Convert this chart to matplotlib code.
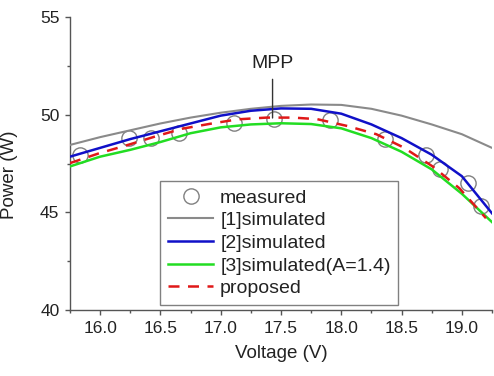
import numpy as np
import matplotlib
matplotlib.use('Agg')
import matplotlib.pyplot as plt
from matplotlib.ticker import MultipleLocator

plt.rcParams['font.family'] = ['Liberation Sans', 'DejaVu Sans']

# ── data ─────────────────────────────────────────────────────────────────────
meas_v = [15.83, 16.24, 16.42, 16.65, 17.11, 17.44, 17.91, 18.36, 18.70, 18.82, 19.05, 19.16]
meas_p = [47.94, 48.79, 48.80, 49.05, 49.57, 49.80, 49.73, 48.77, 47.94, 47.20, 46.51, 45.32]

grid_v = [15.75, 16.0, 16.25, 16.5, 16.75, 17.0, 17.25, 17.5, 17.75, 18.0,
          18.25, 18.5, 18.75, 19.0, 19.25]
sim1_p = [48.45, 48.85, 49.20, 49.55, 49.85, 50.10, 50.30, 50.45, 50.52, 50.50,
          50.30, 49.95, 49.50, 49.00, 48.30]
sim2_p = [47.85, 48.30, 48.75, 49.15, 49.55, 49.95, 50.20, 50.32, 50.30, 50.05,
          49.50, 48.80, 47.95, 46.85, 44.95]
sim3_p = [47.35, 47.85, 48.20, 48.60, 49.05, 49.35, 49.50, 49.56, 49.52, 49.30,
          48.80, 48.10, 47.20, 45.95, 44.50]

prop_v = [15.75, 15.99, 16.23, 16.45, 16.68, 16.91, 17.14, 17.38, 17.60, 17.80,
          18.05, 18.29, 18.52, 18.76, 18.98, 19.20]
prop_p = [47.52, 48.02, 48.45, 48.87, 49.28, 49.53, 49.76, 49.85, 49.85, 49.77,
          49.42, 49.00, 48.31, 47.34, 46.23, 44.70]

mpp_v, mpp_p = 17.43, 49.83

# ── figure ───────────────────────────────────────────────────────────────────
fig = plt.figure(figsize=(4.94, 3.76), dpi=100)
ax = fig.add_axes([70 / 494, 66 / 376, 422 / 494, 293 / 376])

ax.plot(meas_v, meas_p, 'o', ms=11, mfc='none', mec='#808080', mew=1.0,
        label='measured', zorder=2)
ax.plot(grid_v, sim1_p, color='#8a8a8a', lw=1.5, label='[1]simulated', zorder=3)
ax.plot(grid_v, sim2_p, color='#1010c8', lw=1.8, label='[2]simulated', zorder=3)
ax.plot(grid_v, sim3_p, color='#22dd22', lw=1.8, label='[3]simulated(A=1.4)', zorder=3)
ax.plot(prop_v, prop_p, color='#e01818', lw=1.8, dashes=(4.4, 3.4),
        label='proposed', zorder=4)

ax.annotate('MPP', xy=(mpp_v, mpp_p), xytext=(mpp_v, 52.6),
            ha='center', va='center', fontsize=14, color='#222222',
            arrowprops=dict(arrowstyle='-', color='#333333', lw=1.0,
                            shrinkA=3, shrinkB=0))

ax.set_xlim(15.75, 19.25)
ax.set_ylim(40, 55)
ax.xaxis.set_major_locator(MultipleLocator(0.5))
ax.xaxis.set_minor_locator(MultipleLocator(0.25))
ax.yaxis.set_major_locator(MultipleLocator(5))
ax.yaxis.set_minor_locator(MultipleLocator(2.5))
ax.xaxis.set_major_formatter(plt.FormatStrFormatter('%.1f'))
ax.yaxis.set_major_formatter(plt.FormatStrFormatter('%d'))

for side in ('top', 'right'):
    ax.spines[side].set_visible(False)
for side in ('left', 'bottom'):
    ax.spines[side].set_color('#555555')
    ax.spines[side].set_linewidth(1.0)

ax.tick_params(which='major', direction='out', length=3.6, width=1.0,
               color='#555555', labelsize=12.5, labelcolor='#222222', pad=4)
ax.tick_params(which='minor', direction='out', length=2.4, width=1.0,
               color='#555555')

ax.set_xlabel('Voltage (V)', fontsize=13.5, color='#222222', labelpad=7)
ax.set_ylabel('Power (W)', fontsize=13.5, color='#222222')
ax.yaxis.set_label_coords(-0.123, 0.462)

leg = ax.legend(loc='lower left', bbox_to_anchor=(0.213, 0.017),
                borderaxespad=0, fontsize=14, handlelength=2.35,
                handletextpad=0.35, labelspacing=0.26, borderpad=0.4,
                fancybox=False, framealpha=1, edgecolor='#808080')
leg.get_frame().set_linewidth(1.0)
for t in leg.get_texts():
    t.set_color('#222222')

fig.savefig('out.png', dpi=100)
